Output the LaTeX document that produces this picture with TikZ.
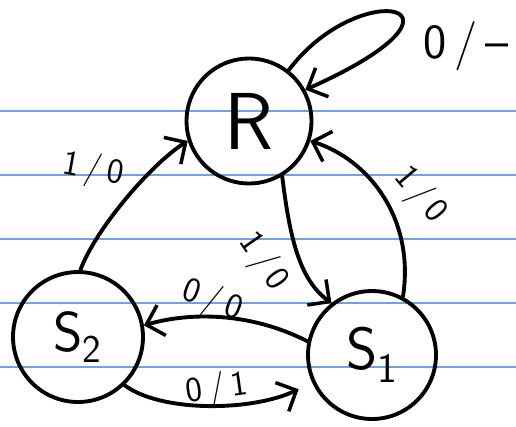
\documentclass[tikz,border=0pt]{standalone}
\usepackage{amsmath}
\usetikzlibrary{arrows.meta}
\definecolor{ruleblue}{RGB}{100,165,235}

\begin{document}
\begin{tikzpicture}[x=0.02cm,y=-0.02cm,
  state/.style={circle, draw, line width=2.2pt, minimum size=2.5cm, inner sep=0pt},
  tr/.style={->, line width=2.2pt, line cap=round},
  lbl/.style={font=\sffamily\fontsize{20}{20}\selectfont},
  >={Straight Barb[length=9pt, width=18pt, line width=2pt]}]
\useasboundingbox (0,0) rectangle (516,426);
% ruled paper
\foreach \y in {111,175,239,303,367}
  \draw [ruleblue, line width=0.7pt] (0,\y) -- (516,\y);
% states
\node [state] (R) at (249,121) {\sffamily\fontsize{46}{46}\selectfont R};
\node [state, minimum size=2.6cm] (S2) at (78,337) {\sffamily\fontsize{32}{32}\selectfont S\textsubscript{2}};
\node [state, minimum size=2.56cm] (S1) at (372,355) {\sffamily\fontsize{34}{34}\selectfont S\textsubscript{1}};
% transitions
\draw [tr] (R.52) .. controls (360,-25) and (495,5) .. (R.29);
\node [lbl, font=\sffamily\fontsize{28}{28}\selectfont] (l1) at (466,46) {0\,/\,--};
\draw [tr] (S2.88) .. controls (95,230) and (150,165) .. (R.198);
\node [lbl, rotate=-10] (l2) at (93,170) {1\,/\,0};
\draw [tr] (R.-59) .. controls (290,240) and (300,280) .. (S1.128);
\node [lbl, rotate=-55] (l3) at (263,262) {1\,/\,0};
\draw [tr] (S1.62) .. controls (415,220) and (370,160) .. (R.-18);
\node [lbl, rotate=-50] (l4) at (420,195) {1\,/\,0};
\draw [tr] (S1.168) .. controls (250,312) and (190,312) .. (S2.10);
\node [lbl, rotate=-20] (l5) at (212,301) {0\,/\,0};
\draw [tr, shorten >=0.3cm] (S2.-46) .. controls (160,412) and (250,412) .. (S1.205);
\node [lbl, rotate=8] (l6) at (217,390) {0\,/\,1};
\end{tikzpicture}
\end{document}
